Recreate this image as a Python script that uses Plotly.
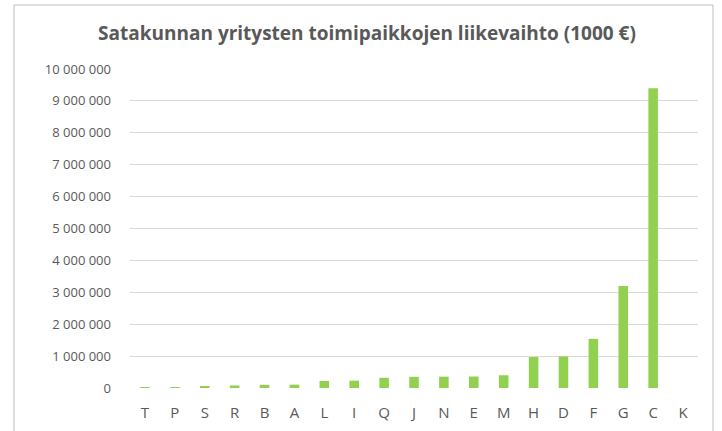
import plotly.graph_objects as go

categories = ["T", "P", "S", "R", "B", "A", "L", "I", "Q", "J", "N", "E", "M", "H", "D", "F", "G", "C", "K"]
values = [5000, 20000, 60000, 80000, 100000, 105000, 220000, 230000, 320000, 350000, 355000, 360000, 400000, 970000, 990000, 1540000, 3200000, 9400000, 0]
y_ticks = list(range(0, 10000001, 1000000))

W, H = 722, 431
L, R, T, B = 130, 24, 69, 43
pw, ph = W - L - R, H - T - B

def px(x):
    return (x - L) / pw

def py(y):
    return (H - B - y) / ph

fig = go.Figure(go.Bar(
    x=categories, y=values,
    marker=dict(color="#92d050", line=dict(width=0)),
))

fig.update_layout(
    width=W, height=H,
    margin=dict(l=L, r=R, t=T, b=B),
    paper_bgcolor="white", plot_bgcolor="white",
    separators=", ",
    bargap=0.68,
    showlegend=False,
    font=dict(family="Open Sans", color="#595959", size=12),
    title=dict(
        text="<b>Satakunnan yritysten toimipaikkojen liikevaihto (1000 €)</b>",
        x=367 / W, xref="container", xanchor="center",
        y=1 - 33 / H, yanchor="middle",
        font=dict(size=19, color="#595959", family="Open Sans"),
    ),
    shapes=[dict(
        type="rect", xref="paper", yref="paper",
        x0=px(14), x1=px(713), y0=py(440), y1=py(5),
        line=dict(color="#bfbfbf", width=1), fillcolor="rgba(0,0,0,0)",
        layer="below",
    )],
)

fig.update_yaxes(
    range=[0, 10000000],
    tickvals=y_ticks,
    tickformat=",d",
    showgrid=True, gridcolor="#d9d9d9", gridwidth=1,
    zeroline=False, showline=False, automargin=False,
    ticks="", ticklabelstandoff=18,
    tickfont=dict(size=13, color="#595959"),
)
fig.update_xaxes(
    showgrid=False, showline=False, zeroline=False, automargin=False,
    ticks="", ticklabelstandoff=14,
    tickfont=dict(size=15, color="#595959"),
)

fig.write_html(
    "out.html",
    config={"displayModeBar": False},
    post_script="document.body.style.margin='0';document.body.style.padding='0';",
)
